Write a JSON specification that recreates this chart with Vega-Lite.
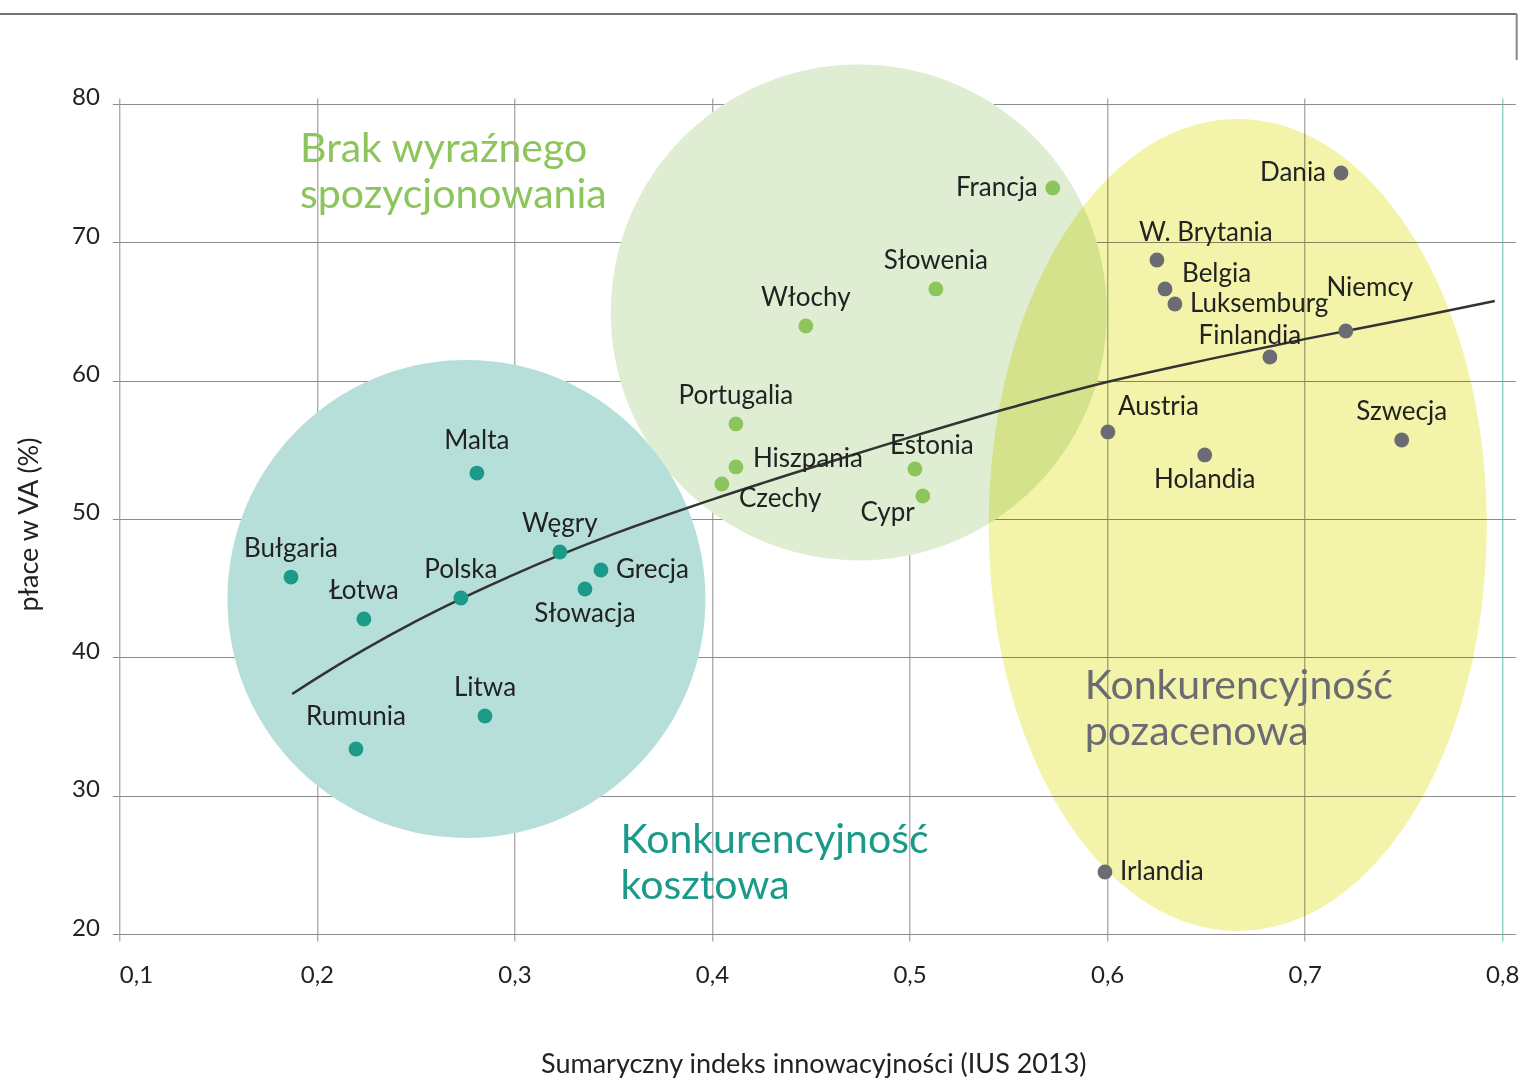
{
  "$schema": "https://vega.github.io/schema/vega-lite/v6.json",
  "autosize": {"type": "none"},
  "width": 1396,
  "height": 836,
  "padding": {"left": 119.3, "top": 98, "right": 4.7, "bottom": 146},
  "background": "white",
  "config": {
    "view": {"stroke": null},
    "font": "Lato",
    "axis": {
      "domain": false,
      "zindex": 1,
      "gridColor": "#8c8c8c",
      "gridWidth": 1,
      "tickColor": "#8c8c8c",
      "labelFont": "Lato",
      "titleFont": "Lato",
      "labelColor": "#222222",
      "titleColor": "#222222",
      "titleFontWeight": "normal"
    }
  },
  "datasets": {
    "countries": [
      {"name": "Bułgaria", "x": 0.1869, "y": 45.8, "group": "koszt", "pos": "n"},
      {"name": "Łotwa", "x": 0.2238, "y": 42.77, "group": "koszt", "pos": "n"},
      {"name": "Polska", "x": 0.2729, "y": 44.29, "group": "koszt", "pos": "n"},
      {"name": "Rumunia", "x": 0.2198, "y": 33.37, "group": "koszt", "pos": "n2"},
      {"name": "Litwa", "x": 0.2851, "y": 35.76, "group": "koszt", "pos": "n"},
      {"name": "Malta", "x": 0.281, "y": 53.32, "group": "koszt", "pos": "n2"},
      {"name": "Węgry", "x": 0.323, "y": 47.61, "group": "koszt", "pos": "n"},
      {"name": "Grecja", "x": 0.3438, "y": 46.31, "group": "koszt", "pos": "e"},
      {"name": "Słowacja", "x": 0.3357, "y": 44.94, "group": "koszt", "pos": "s"},
      {"name": "Portugalia", "x": 0.4121, "y": 56.87, "group": "brak", "pos": "n"},
      {"name": "Hiszpania", "x": 0.4121, "y": 53.76, "group": "brak", "pos": "ene"},
      {"name": "Czechy", "x": 0.405, "y": 52.53, "group": "brak", "pos": "ese"},
      {"name": "Włochy", "x": 0.4475, "y": 63.95, "group": "brak", "pos": "n"},
      {"name": "Słowenia", "x": 0.5133, "y": 66.63, "group": "brak", "pos": "n"},
      {"name": "Francja", "x": 0.5725, "y": 73.93, "group": "brak", "pos": "w"},
      {"name": "Estonia", "x": 0.5027, "y": 53.61, "group": "brak", "pos": "ne"},
      {"name": "Cypr", "x": 0.5067, "y": 51.66, "group": "brak", "pos": "wsw"},
      {"name": "Dania", "x": 0.7184, "y": 75.01, "group": "pozacen", "pos": "w"},
      {"name": "W. Brytania", "x": 0.6252, "y": 68.72, "group": "pozacen", "pos": "nl"},
      {"name": "Belgia", "x": 0.6293, "y": 66.63, "group": "pozacen", "pos": "ene2"},
      {"name": "Luksemburg", "x": 0.6343, "y": 65.54, "group": "pozacen", "pos": "e"},
      {"name": "Niemcy", "x": 0.7208, "y": 63.59, "group": "pozacen", "pos": "nn"},
      {"name": "Finlandia", "x": 0.6824, "y": 61.71, "group": "pozacen", "pos": "nw"},
      {"name": "Austria", "x": 0.6004, "y": 56.29, "group": "pozacen", "pos": "nr"},
      {"name": "Holandia", "x": 0.6494, "y": 54.63, "group": "pozacen", "pos": "s"},
      {"name": "Szwecja", "x": 0.7491, "y": 55.71, "group": "pozacen", "pos": "n"},
      {"name": "Irlandia", "x": 0.5989, "y": 24.48, "group": "pozacen", "pos": "e"}
    ],
    "trend": [
      {"x": 0.1875, "y": 37.35},
      {"x": 0.2, "y": 38.5},
      {"x": 0.25, "y": 42.6},
      {"x": 0.3, "y": 46.0},
      {"x": 0.35, "y": 48.9},
      {"x": 0.4, "y": 51.4},
      {"x": 0.45, "y": 53.7},
      {"x": 0.5, "y": 55.9},
      {"x": 0.55, "y": 58.0},
      {"x": 0.6, "y": 59.9},
      {"x": 0.65, "y": 61.5},
      {"x": 0.7, "y": 63.0},
      {"x": 0.75, "y": 64.4},
      {"x": 0.7962, "y": 65.76}
    ],
    "regions": [
      {"group": "brak", "x": 0.4743, "y": 64.93},
      {"group": "koszt", "x": 0.2757, "y": 44.22},
      {"group": "pozacen", "x": 0.6661, "y": 49.57}
    ],
    "regionTitles": [
      {"group": "brak", "label": "Brak wyraźnego\nspozycjonowania", "x": 0.1915, "y": 75.8},
      {"group": "koszt", "label": "Konkurencyjność\nkosztowa", "x": 0.3537, "y": 25.82},
      {"group": "pozacen", "label": "Konkurencyjność\npozacenowa", "x": 0.5887, "y": 36.96}
    ],
    "frameTop": [
      {"x": 0.0396, "x2": 0.8073, "y": 86.51}
    ],
    "frameRight": [
      {"x": 0.8073, "y": 86.51, "y2": 83.18}
    ]
  },
  "encoding": {
    "x": {
      "field": "x", "type": "quantitative",
      "scale": {"domain": [0.1, 0.8066], "nice": false, "zero": false},
      "axis": {
        "values": [0.1, 0.2, 0.3, 0.4, 0.5, 0.6, 0.7, 0.8],
        "labelExpr": "replace(format(datum.value, '.1f'), '.', ',')",
        "labelFontSize": 24,
        "labelBaseline": "top",
        "labelPadding": 22,
        "tickSize": 7,
        "gridColor": {"condition": {"test": "datum.value > 0.79", "value": "#5fc0b2"}, "value": "#8c8c8c"},
        "tickColor": {"condition": {"test": "datum.value > 0.79", "value": "#5fc0b2"}, "value": "#8c8c8c"},
        "title": "Sumaryczny indeks innowacyjności (IUS 2013)",
        "titleFontSize": 27,
        "titleX": 694,
        "titleY": 138,
        "titleBaseline": "alphabetic",
        "titleAnchor": "middle"
      }
    },
    "y": {
      "field": "y", "type": "quantitative",
      "scale": {"domain": [20, 80.43], "nice": false, "zero": false},
      "axis": {
        "values": [20, 30, 40, 50, 60, 70, 80],
        "labelFontSize": 24,
        "labelBaseline": "alphabetic",
        "labelOffset": 1,
        "labelPadding": 13,
        "tickSize": 7,
        "title": "płace w VA (%)",
        "titleFontSize": 27,
        "titleX": -76,
        "titleY": 426,
        "titleAngle": -90,
        "titleBaseline": "bottom",
        "titleAnchor": "middle"
      }
    },
    "color": {"field": "group", "type": "nominal",
              "scale": {"domain": ["koszt", "brak", "pozacen"], "range": ["#1b9a8a", "#8cc55b", "#6b6b73"]},
              "legend": null}
  },
  "layer": [
    {
      "data": {"name": "regions"},
      "transform": [{"filter": "datum.group === 'brak'"}],
      "mark": {"type": "point", "filled": true, "opacity": 1, "strokeWidth": 0,
               "shape": "M-1,0A1,1,0,1,0,1,0A1,1,0,1,0,-1,0Z", "size": 246016},
      "encoding": {"color": {"value": "#dfeed2"}}
    },
    {
      "data": {"name": "regions"},
      "transform": [{"filter": "datum.group === 'koszt'"}],
      "mark": {"type": "point", "filled": true, "opacity": 1, "strokeWidth": 0,
               "shape": "M-1,0A1,1,0,1,0,1,0A1,1,0,1,0,-1,0Z", "size": 228484},
      "encoding": {"color": {"value": "#b6dfd9"}}
    },
    {
      "data": {"name": "regions"},
      "transform": [{"filter": "datum.group === 'pozacen'"}],
      "mark": {"type": "point", "filled": true, "opacity": 1, "strokeWidth": 0, "blend": "multiply",
               "shape": "M-0.6133,0A0.6133,1,0,1,0,0.6133,0A0.6133,1,0,1,0,-0.6133,0Z", "size": 659344},
      "encoding": {"color": {"value": "#f3f3aa"}}
    },
    {
      "data": {"name": "trend"},
      "mark": {"type": "line", "strokeWidth": 2.5, "interpolate": "monotone"},
      "encoding": {"color": {"value": "#333333"}}
    },
    {
      "data": {"name": "countries"},
      "mark": {"type": "circle", "opacity": 1, "size": 220}
    },
    {
      "data": {"name": "countries"},
      "transform": [{"filter": "datum.pos === 'n'"}],
      "mark": {"type": "text", "fontSize": 26, "align": "center", "baseline": "middle", "dy": -28},
      "encoding": {"text": {"field": "name"}, "color": {"value": "#222222"}}
    },
    {
      "data": {"name": "countries"},
      "transform": [{"filter": "datum.pos === 'n2'"}],
      "mark": {"type": "text", "fontSize": 26, "align": "center", "baseline": "middle", "dy": -32},
      "encoding": {"text": {"field": "name"}, "color": {"value": "#222222"}}
    },
    {
      "data": {"name": "countries"},
      "transform": [{"filter": "datum.pos === 'ne'"}],
      "mark": {"type": "text", "fontSize": 26, "align": "center", "baseline": "middle", "dx": 17, "dy": -23},
      "encoding": {"text": {"field": "name"}, "color": {"value": "#222222"}}
    },
    {
      "data": {"name": "countries"},
      "transform": [{"filter": "datum.pos === 'nw'"}],
      "mark": {"type": "text", "fontSize": 26, "align": "center", "baseline": "middle", "dx": -20, "dy": -21},
      "encoding": {"text": {"field": "name"}, "color": {"value": "#222222"}}
    },
    {
      "data": {"name": "countries"},
      "transform": [{"filter": "datum.pos === 'nn'"}],
      "mark": {"type": "text", "fontSize": 26, "align": "center", "baseline": "middle", "dx": 24, "dy": -43},
      "encoding": {"text": {"field": "name"}, "color": {"value": "#222222"}}
    },
    {
      "data": {"name": "countries"},
      "transform": [{"filter": "datum.pos === 'nl'"}],
      "mark": {"type": "text", "fontSize": 26, "align": "left", "baseline": "middle", "dx": -18, "dy": -27},
      "encoding": {"text": {"field": "name"}, "color": {"value": "#222222"}}
    },
    {
      "data": {"name": "countries"},
      "transform": [{"filter": "datum.pos === 'nr'"}],
      "mark": {"type": "text", "fontSize": 26, "align": "left", "baseline": "middle", "dx": 10, "dy": -25},
      "encoding": {"text": {"field": "name"}, "color": {"value": "#222222"}}
    },
    {
      "data": {"name": "countries"},
      "transform": [{"filter": "datum.pos === 'e'"}],
      "mark": {"type": "text", "fontSize": 26, "align": "left", "baseline": "middle", "dx": 15, "dy": 0},
      "encoding": {"text": {"field": "name"}, "color": {"value": "#222222"}}
    },
    {
      "data": {"name": "countries"},
      "transform": [{"filter": "datum.pos === 'ene'"}],
      "mark": {"type": "text", "fontSize": 26, "align": "left", "baseline": "middle", "dx": 17, "dy": -8},
      "encoding": {"text": {"field": "name"}, "color": {"value": "#222222"}}
    },
    {
      "data": {"name": "countries"},
      "transform": [{"filter": "datum.pos === 'ene2'"}],
      "mark": {"type": "text", "fontSize": 26, "align": "left", "baseline": "middle", "dx": 17, "dy": -15},
      "encoding": {"text": {"field": "name"}, "color": {"value": "#222222"}}
    },
    {
      "data": {"name": "countries"},
      "transform": [{"filter": "datum.pos === 'ese'"}],
      "mark": {"type": "text", "fontSize": 26, "align": "left", "baseline": "middle", "dx": 17, "dy": 15},
      "encoding": {"text": {"field": "name"}, "color": {"value": "#222222"}}
    },
    {
      "data": {"name": "countries"},
      "transform": [{"filter": "datum.pos === 'w'"}],
      "mark": {"type": "text", "fontSize": 26, "align": "right", "baseline": "middle", "dx": -15, "dy": 0},
      "encoding": {"text": {"field": "name"}, "color": {"value": "#222222"}}
    },
    {
      "data": {"name": "countries"},
      "transform": [{"filter": "datum.pos === 'wsw'"}],
      "mark": {"type": "text", "fontSize": 26, "align": "right", "baseline": "middle", "dx": -8, "dy": 17},
      "encoding": {"text": {"field": "name"}, "color": {"value": "#222222"}}
    },
    {
      "data": {"name": "countries"},
      "transform": [{"filter": "datum.pos === 's'"}],
      "mark": {"type": "text", "fontSize": 26, "align": "center", "baseline": "middle", "dy": 25},
      "encoding": {"text": {"field": "name"}, "color": {"value": "#222222"}}
    },
    {
      "data": {"name": "regionTitles"},
      "mark": {"type": "text", "fontSize": 41, "align": "left", "baseline": "alphabetic", "lineBreak": "\n", "lineHeight": 46},
      "encoding": {"text": {"field": "label"}}
    },
    {
      "data": {"name": "frameTop"},
      "mark": {"type": "rule", "strokeWidth": 1.5, "clip": false},
      "encoding": {"x2": {"field": "x2"}, "color": {"value": "#444444"}}
    },
    {
      "data": {"name": "frameRight"},
      "mark": {"type": "rule", "strokeWidth": 2, "clip": false},
      "encoding": {"y2": {"field": "y2"}, "color": {"value": "#888888"}}
    }
  ]
}
